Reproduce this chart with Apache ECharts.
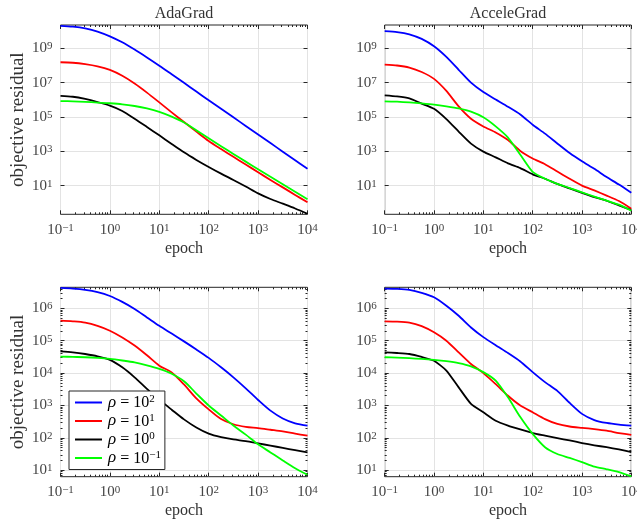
<!DOCTYPE html>
<html>
<head>
<meta charset="utf-8">
<script src="https://cdn.jsdelivr.net/npm/echarts@6/dist/echarts.min.js"></script>
<style>
  html, body { margin: 0; padding: 0; background: #ffffff; }
  #chart { width: 637px; height: 521px; }
</style>
</head>
<body>
<div id="chart"></div>
<script>
// Epochs sampled every quarter decade from 1e-1 to 1e4
const epochs = [0.1, 0.178, 0.316, 0.562, 1, 1.78, 3.16, 5.62, 10, 17.8, 31.6, 56.2,
                100, 178, 316, 562, 1000, 1780, 3160, 5620, 10000];

// Step-size parameter of each curve (rho = 10^k)
const rhoExponents = ['2', '1', '0', '−1'];
const lineColors = ['#0000ff', '#ff0000', '#000000', '#00ff00'];

// AdaGrad, first problem
const adaTopRho2  = [2.04e10, 1.82e10, 1.45e10, 9.55e9, 5.01e9, 2.24e9, 8.51e8, 2.95e8, 9.77e7, 3.09e7, 9.77e6, 3.02e6, 9.55e5, 3.02e5, 9.55e4, 3.02e4, 9.55e3, 3.02e3, 955, 302, 95.5];
const adaTopRho1  = [1.55e8, 1.45e8, 1.20e8, 8.91e7, 5.50e7, 2.51e7, 8.91e6, 2.63e6, 7.08e5, 1.86e5, 5.13e4, 1.41e4, 3.98e3, 1.35e3, 479, 170, 60.3, 21.4, 7.94, 2.88, 1.07];
const adaTopRho0  = [1.70e6, 1.51e6, 1.12e6, 7.41e5, 4.57e5, 2.24e5, 7.94e4, 2.63e4, 8.51e3, 2.69e3, 871, 316, 123, 50.1, 21.4, 8.91, 3.55, 1.66, 0.891, 0.468, 0.229];
const adaTopRhoM1 = [8.51e5, 8.13e5, 7.59e5, 6.92e5, 6.31e5, 5.50e5, 4.37e5, 3.16e5, 2.00e5, 1.05e5, 4.79e4, 1.66e4, 5.75e3, 2.00e3, 708, 251, 91.2, 33.1, 12.0, 4.37, 1.62];

// AcceleGrad, first problem
const accTopRho2  = [1.00e10, 8.91e9, 6.61e9, 3.55e9, 1.32e9, 3.16e8, 5.62e7, 1.00e7, 2.82e6, 1.05e6, 3.98e5, 1.41e5, 3.55e4, 1.07e4, 2.88e3, 794, 263, 95.5, 31.6, 11.5, 3.80];
const accTopRho1  = [1.12e8, 1.00e8, 7.59e7, 4.17e7, 1.66e7, 3.31e6, 4.17e5, 7.94e4, 2.82e4, 1.26e4, 4.57e3, 1.05e3, 380, 178, 66.1, 25.1, 10.0, 5.25, 2.63, 1.26, 0.457];
const accTopRho0  = [1.82e6, 1.58e6, 1.20e6, 6.03e5, 3.02e5, 7.59e4, 1.41e4, 2.82e3, 955, 447, 200, 105, 45.7, 25.1, 12.6, 6.92, 3.80, 2.14, 1.32, 0.708, 0.380];
const accTopRhoM1 = [8.13e5, 7.76e5, 7.08e5, 6.17e5, 5.25e5, 4.17e5, 3.16e5, 2.04e5, 9.55e4, 2.82e4, 6.31e3, 631, 63.1, 25.1, 12.6, 7.24, 4.07, 2.29, 1.35, 0.776, 0.347];

// AdaGrad, second problem
const adaBotRho2  = [4.27e6, 4.07e6, 3.72e6, 3.16e6, 2.40e6, 1.58e6, 9.55e5, 5.25e5, 2.88e5, 1.66e5, 9.55e4, 5.37e4, 2.95e4, 1.51e4, 7.41e3, 3.39e3, 1.48e3, 692, 398, 282, 240];
const adaBotRho1  = [4.17e5, 3.98e5, 3.63e5, 2.88e5, 2.04e5, 1.26e5, 7.08e4, 3.55e4, 1.70e4, 1.05e4, 4.47e3, 1.66e3, 759, 380, 263, 219, 200, 178, 158, 135, 117];
const adaBotRho0  = [4.68e4, 4.37e4, 3.89e4, 3.31e4, 2.57e4, 1.51e4, 7.41e3, 3.24e3, 1.51e3, 741, 372, 209, 135, 105, 89.1, 79.4, 67.6, 57.5, 49.0, 41.7, 35.5];
const adaBotRhoM1 = [3.24e4, 3.16e4, 3.09e4, 2.95e4, 2.75e4, 2.45e4, 2.14e4, 1.74e4, 1.35e4, 9.55e3, 5.62e3, 2.34e3, 1.00e3, 490, 240, 126, 63.1, 35.5, 20.0, 11.5, 7.24];

// AcceleGrad, second problem
const accBotRho2  = [4.07e6, 3.98e6, 3.72e6, 3.02e6, 2.19e6, 1.20e6, 5.89e5, 2.57e5, 1.29e5, 7.24e4, 4.17e4, 2.29e4, 1.07e4, 5.25e3, 2.82e3, 1.20e3, 550, 355, 288, 257, 240];
const accBotRho1  = [3.98e5, 3.89e5, 3.63e5, 2.82e5, 1.82e5, 1.00e5, 4.37e4, 1.91e4, 1.00e4, 4.57e3, 2.00e3, 1.00e3, 617, 380, 269, 224, 204, 186, 166, 141, 123];
const accBotRho0  = [4.37e4, 4.17e4, 3.89e4, 3.16e4, 2.40e4, 1.20e4, 3.63e3, 1.12e3, 617, 339, 240, 182, 141, 117, 97.7, 83.2, 69.2, 58.9, 51.3, 43.7, 36.3];
const accBotRhoM1 = [3.09e4, 3.02e4, 2.88e4, 2.75e4, 2.57e4, 2.34e4, 2.04e4, 1.62e4, 1.07e4, 5.89e3, 1.78e3, 437, 132, 51.3, 31.6, 24.0, 17.8, 12.9, 10.7, 8.71, 6.46];

// Labelled ticks
const xTicks = [0.1, 1, 10, 100, 1000, 10000];
const yTicksTop = [10, 1e3, 1e5, 1e7, 1e9];
const yTicksBottom = [10, 100, 1e3, 1e4, 1e5, 1e6];

// Unlabelled minor ticks (2..9 within each decade)
function minorTicks(kFrom, kTo) {
  const out = [];
  for (let k = kFrom; k <= kTo; k++) {
    for (let m = 2; m <= 9; m++) out.push(Number((m * Math.pow(10, k)).toPrecision(3)));
  }
  return out;
}
const xMinor = minorTicks(-1, 3);
const yMinorBottom = minorTicks(0, 6);

const FONT = '"Liberation Serif", "DejaVu Serif", serif';
const TEXT = '#333333';
const TICK_TEXT = '#444444';
const BOX = '#262626';
const GRID_LINE = '#e3e3e3';

const seriesNames = rhoExponents.map(e => 'rho' + e);

const panels = [
  { title: 'AdaGrad', left: 60.5, top: 25, width: 247, height: 189.3,
    yMin: Math.pow(10, -0.67), yMax: Math.pow(10, 10.36), yMajor: yTicksTop, yMinor: [],
    yName: true, smooth: 0.3, lines: [adaTopRho2, adaTopRho1, adaTopRho0, adaTopRhoM1] },
  { title: 'AcceleGrad', left: 384.7, top: 25, width: 246.6, height: 189.3,
    yMin: Math.pow(10, -0.67), yMax: Math.pow(10, 10.36), yMajor: yTicksTop, yMinor: [],
    yName: false, smooth: 0.2, lines: [accTopRho2, accTopRho1, accTopRho0, accTopRhoM1] },
  { title: '', left: 60.5, top: 287.3, width: 247, height: 189.4,
    yMin: Math.pow(10, 0.8), yMax: Math.pow(10, 6.65), yMajor: yTicksBottom, yMinor: yMinorBottom,
    yName: true, smooth: 0.3, lines: [adaBotRho2, adaBotRho1, adaBotRho0, adaBotRhoM1] },
  { title: '', left: 384.7, top: 287.3, width: 246.6, height: 189.4,
    yMin: Math.pow(10, 0.8), yMax: Math.pow(10, 6.65), yMajor: yTicksBottom, yMinor: yMinorBottom,
    yName: false, smooth: 0.2, lines: [accBotRho2, accBotRho1, accBotRho0, accBotRhoM1] }
];

const powRich = {
  b: { fontFamily: FONT, fontSize: 15, color: TICK_TEXT, verticalAlign: 'bottom' },
  s: { fontFamily: FONT, fontSize: 11, color: TICK_TEXT, verticalAlign: 'top' }
};
function powLabel(v) {
  const e = Math.round(Math.log10(v));
  return '{b|10}{s|' + (e < 0 ? '−' + (-e) : String(e)) + '}';
}

function tickAxis(base, position, values, length, labelled, extra) {
  return Object.assign({}, base, {
    position: position,
    axisLine: { show: false, onZero: false },
    axisTick: { show: true, inside: true, length: length, customValues: values,
                lineStyle: { color: BOX, width: 1 } },
    axisLabel: labelled
      ? { show: true, customValues: values, formatter: powLabel, rich: powRich, margin: 8 }
      : { show: false },
    splitLine: { show: false },
    minorTick: { show: false },
    minorSplitLine: { show: false }
  }, extra || {});
}

const grids = [], xAxes = [], yAxes = [], series = [], titles = [];

panels.forEach((p, i) => {
  grids.push({
    left: p.left, top: p.top, width: p.width, height: p.height,
    show: true, borderColor: BOX, borderWidth: 1, backgroundColor: '#ffffff',
    containLabel: false, outerBoundsMode: 'none'
  });

  const xBase = { type: 'log', logBase: 10, gridIndex: i, min: 0.1, max: 10000 };
  xAxes.push(tickAxis(xBase, 'bottom', xTicks, 4, true, {
    splitLine: { show: true, lineStyle: { color: GRID_LINE, width: 1 } },
    name: 'epoch', nameLocation: 'middle', nameGap: 26, nameMoveOverlap: false,
    nameTextStyle: { fontFamily: FONT, fontSize: 16, color: TEXT }
  }));
  xAxes.push(tickAxis(xBase, 'bottom', xMinor, 2, false));
  xAxes.push(tickAxis(xBase, 'top', xTicks, 4, false));
  xAxes.push(tickAxis(xBase, 'top', xMinor, 2, false));

  const yBase = { type: 'log', logBase: 10, gridIndex: i, min: p.yMin, max: p.yMax };
  const yExtra = {
    splitLine: { show: true, lineStyle: { color: GRID_LINE, width: 1 } }
  };
  if (p.yName) {
    Object.assign(yExtra, {
      name: 'objective residual', nameLocation: 'middle', nameGap: 33, nameMoveOverlap: false,
      nameTextStyle: { fontFamily: FONT, fontSize: 19, color: TEXT }
    });
  }
  yAxes.push(tickAxis(yBase, 'left', p.yMajor, 4, true, yExtra));
  yAxes.push(tickAxis(yBase, 'left', p.yMinor, 2, false));
  yAxes.push(tickAxis(yBase, 'right', p.yMajor, 4, false));
  yAxes.push(tickAxis(yBase, 'right', p.yMinor, 2, false));

  p.lines.forEach((vals, k) => {
    series.push({
      name: seriesNames[k],
      type: 'line',
      xAxisIndex: i * 4,
      yAxisIndex: i * 4,
      data: epochs.map((e, j) => [e, vals[j]]),
      symbol: 'none',
      smooth: p.smooth,
      lineStyle: { color: lineColors[k], width: 1.8, join: 'round' },
      itemStyle: { color: lineColors[k] },
      emphasis: { disabled: true },
      animation: false,
      z: 3
    });
  });

  if (p.title) {
    titles.push({
      text: p.title, left: p.left + p.width / 2, top: 6, textAlign: 'center', padding: 0,
      textStyle: { fontFamily: FONT, fontSize: 16, fontWeight: 'normal', color: TEXT }
    });
  }
});

const legendRich = {
  i: { fontFamily: FONT, fontSize: 17, fontStyle: 'italic', color: '#000000', verticalAlign: 'bottom', lineHeight: 17 },
  n: { fontFamily: FONT, fontSize: 16, color: '#000000', verticalAlign: 'bottom', lineHeight: 17 },
  s: { fontFamily: FONT, fontSize: 11, color: '#000000', verticalAlign: 'top', lineHeight: 17 }
};

const option = {
  backgroundColor: '#ffffff',
  animation: false,
  title: titles,
  grid: grids,
  xAxis: xAxes,
  yAxis: yAxes,
  series: series,
  legend: {
    data: seriesNames,
    orient: 'vertical',
    left: 69, top: 391,
    icon: 'rect',
    itemWidth: 27, itemHeight: 2, itemGap: 1.5,
    padding: [3, 4, 3, 6],
    backgroundColor: '#ffffff',
    borderColor: BOX, borderWidth: 1, borderRadius: 0,
    selectedMode: false,
    formatter: name => {
      const e = rhoExponents[seriesNames.indexOf(name)];
      return '{i|ρ}{n| = 10}{s|' + e + '}';
    },
    textStyle: { rich: legendRich, padding: [0, 0, 0, 1] }
  }
};

const chart = echarts.init(document.getElementById('chart'), null, { renderer: 'canvas' });
chart.setOption(option);
</script>
</body>
</html>
